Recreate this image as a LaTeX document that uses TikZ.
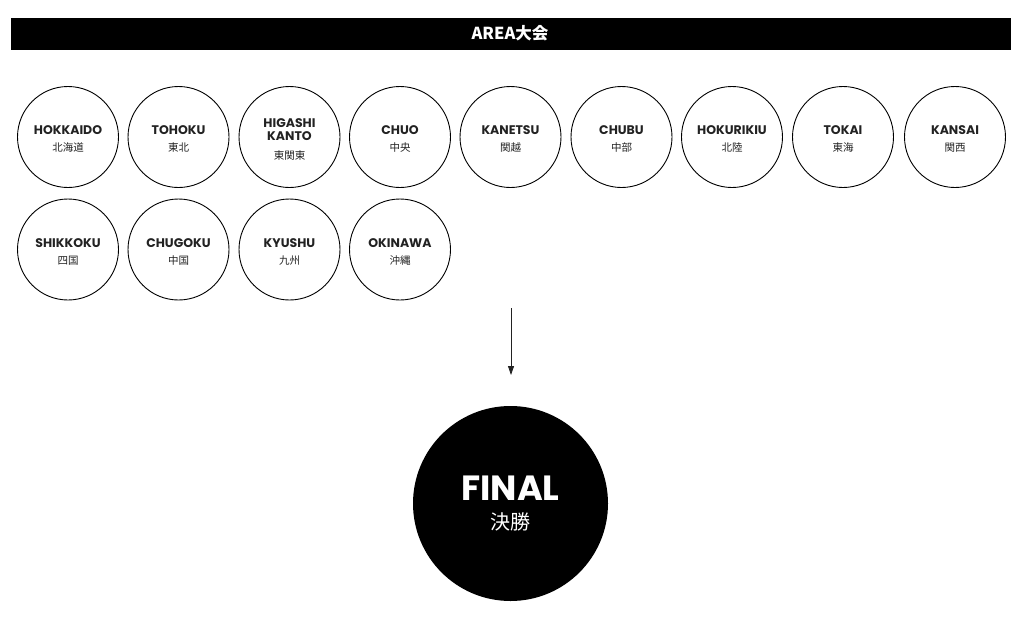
\documentclass[tikz,border=0pt]{standalone}
\usepackage{fontspec}
\setmainfont{Poppins}
\newfontfamily\jp{Noto Sans CJK JP}
\usetikzlibrary{arrows.meta}
\definecolor{ink}{HTML}{222222}
\tikzset{
  area/.style={circle,draw=black,line width=0.9pt,minimum size=101pt,inner sep=0pt,align=center,text=ink},
}
\newcommand{\areatext}[2]{{\fontsize{12.5}{13.5}\selectfont\bfseries\rule{0pt}{13pt}#1}\\[5pt]{\jp\fontsize{10.5}{12}\selectfont #2}}
\begin{document}
\begin{tikzpicture}[x=1pt,y=-1pt]
\useasboundingbox (0,0) rectangle (1031,621);
\fill[black] (11,18) rectangle (1011,50);
\node[text=white,font=\jp\bfseries\fontsize{16.5}{17}\selectfont] (hdr) at (510,33.5) {AREA大会};
\node[area] (a1) at (68,137) {\areatext{HOKKAIDO}{北海道}};
\node[area] (a2) at (178.5,137) {\areatext{TOHOKU}{東北}};
\node[area,font=\fontsize{12.5}{13.5}\selectfont\bfseries] (a3) at (289.5,137) {\rule{0pt}{13pt}HIGASHI\\KANTO\\[5pt]\jp\mdseries\fontsize{10.5}{12}\selectfont 東関東};
\node[area] (a4) at (400,137) {\areatext{CHUO}{中央}};
\node[area] (a5) at (510.5,137) {\areatext{KANETSU}{関越}};
\node[area] (a6) at (621.5,137) {\areatext{CHUBU}{中部}};
\node[area] (a7) at (732,137) {\areatext{HOKURIKIU}{北陸}};
\node[area] (a8) at (843,137) {\areatext{TOKAI}{東海}};
\node[area] (a9) at (955,137) {\areatext{KANSAI}{関西}};
\node[area] (b1) at (68,249.5) {\areatext{SHIKKOKU}{四国}};
\node[area] (b2) at (178.5,249.5) {\areatext{CHUGOKU}{中国}};
\node[area] (b3) at (289.5,249.5) {\areatext{KYUSHU}{九州}};
\node[area] (b4) at (400,249.5) {\areatext{OKINAWA}{沖縄}};
\node[circle,fill=black,minimum size=195pt,inner sep=0pt,align=center,text=white] (fin) at (510.5,503.5)
  {{\fontsize{35}{36}\selectfont\bfseries FINAL}\\[11pt]{\jp\fontsize{20}{22}\selectfont 決勝}};
\coordinate (s) at (511,308);
\coordinate (e) at (511,375);
\draw[line width=0.8pt,draw=ink,-{Triangle[length=9pt,width=6pt]}] (s) -- (e);
\end{tikzpicture}
\end{document}
